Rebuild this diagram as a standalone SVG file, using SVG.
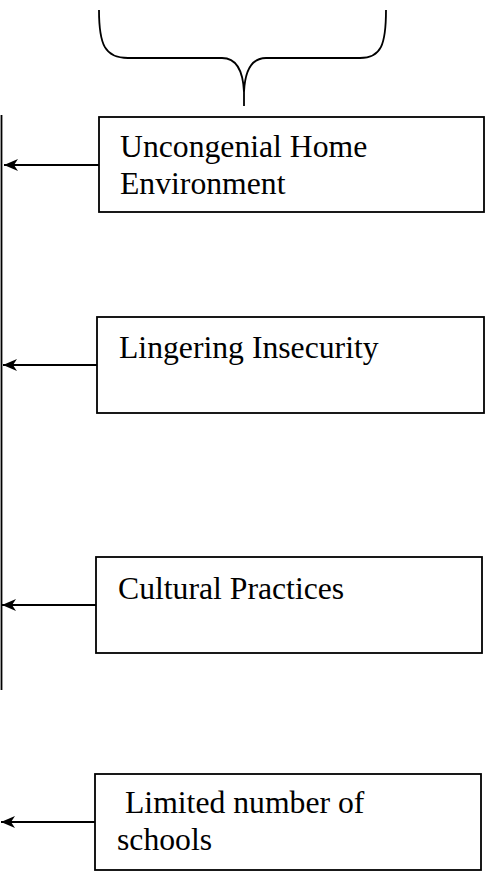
<svg xmlns="http://www.w3.org/2000/svg" width="485" height="889" viewBox="0 0 485 889">
<style>
.box{fill:#fff;stroke:#000;stroke-width:1.8}
.lbl{font-family:"Liberation Serif","Times New Roman",serif;font-size:31.7px;fill:#000}
.conn{stroke:#000;stroke-width:1.8;fill:none}
</style>
<defs>
<marker id="ah" markerWidth="14" markerHeight="12" refX="14" refY="6" orient="auto" markerUnits="userSpaceOnUse" overflow="visible">
<path d="M0,0 L14,6 L0,12 L4,6 Z" fill="#000"/>
</marker>
</defs>
<rect width="485" height="889" fill="#fff"/>
<g id="connectors">
<path class="conn" d="M99,10 C99,45 105,58 128,58 L222,58 C236,58 243,70 244,92 L244,106 M244,92 C245,70 252,58 266,58 L360,58 C381,58 386,45 386,10" stroke-width="2"/>
<line class="conn" x1="1.5" y1="115" x2="1.5" y2="430" stroke-width="2.2"/>
<line class="conn" x1="1.5" y1="430" x2="1.5" y2="690" stroke="#555" stroke-width="1.6"/>
<line class="conn" x1="99" y1="165" x2="4" y2="165" marker-end="url(#ah)"/>
<line class="conn" x1="97" y1="365" x2="3" y2="365" marker-end="url(#ah)"/>
<line class="conn" x1="96" y1="605" x2="2" y2="605" marker-end="url(#ah)"/>
<line class="conn" x1="95" y1="822" x2="1" y2="822" marker-end="url(#ah)"/>
</g>
<g id="node1">
<rect class="box" x="99" y="117" width="385" height="95"/>
<text class="lbl" x="120" y="157">Uncongenial Home</text>
<text class="lbl" x="120" y="194">Environment</text>
</g>
<g id="node2">
<rect class="box" x="97" y="317" width="387" height="96"/>
<text class="lbl" x="119" y="358">Lingering Insecurity</text>
</g>
<g id="node3">
<rect class="box" x="96" y="557" width="386" height="96"/>
<text class="lbl" x="118" y="599">Cultural Practices</text>
</g>
<g id="node4">
<rect class="box" x="95" y="774" width="386" height="96"/>
<text class="lbl" x="125" y="813">Limited number of</text>
<text class="lbl" x="117" y="850">schools</text>
</g>
</svg>
